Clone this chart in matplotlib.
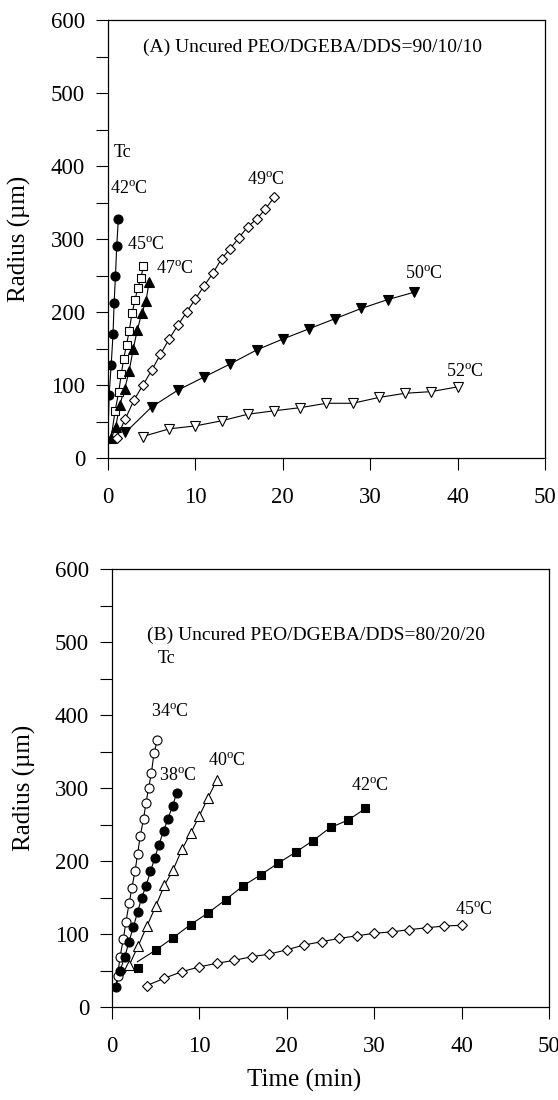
import matplotlib
matplotlib.use("Agg")
import matplotlib.pyplot as plt
from matplotlib.ticker import MultipleLocator

plt.rcParams['font.family'] = ['Liberation Serif', 'DejaVu Serif']
plt.rcParams['mathtext.fontset'] = 'custom'
plt.rcParams['mathtext.rm'] = 'Liberation Serif'

# (A) 90/10/10 : radius (um) vs time (min)
t42a = [0.13, 0.37, 0.58, 0.70, 0.86, 1.00, 1.19]
r42a = [86, 128, 170, 212, 250, 290, 328]
t45a = [0.82, 1.24, 1.52, 1.80, 2.12, 2.43, 2.74, 3.09, 3.40, 3.76, 4.05]
r45a = [65, 91, 115, 136, 155, 174, 198, 216, 233, 246, 263]
t47a = [0.38, 0.88, 1.35, 1.92, 2.42, 2.90, 3.35, 3.85, 4.35, 4.70]
r47a = [27, 42, 73, 95, 119, 150, 175, 198, 215, 241]
t49a = list(range(1, 20))
r49a = [28, 54, 80, 100, 120, 142, 163, 182, 200, 218, 236, 253, 273, 287, 302, 317, 327, 341, 357]
t50a = list(range(2, 36, 3))
r50a = [35, 70, 93, 111, 129, 148, 163, 177, 191, 205, 217, 227]
t52a = list(range(4, 41, 3))
r52a = [29.5, 40, 44, 51, 60, 64.7, 69, 75, 75, 83, 88.7, 91, 97.5]

# (B) 80/20/20
t34b = [0.65, 0.92, 1.30, 1.58, 1.96, 2.27, 2.65, 2.92, 3.23, 3.61, 3.88, 4.19, 4.50, 4.81, 5.19]
r34b = [43, 69, 93, 116, 142, 163, 187, 209, 234, 258, 279, 300, 320, 348, 366]
t38b = [0.43, 0.92, 1.45, 1.93, 2.45, 2.93, 3.40, 3.90, 4.40, 4.90, 5.35, 5.90, 6.40, 6.95, 7.40]
r38b = [27, 50, 68, 89, 110, 130, 150, 166, 186, 204, 222, 241, 258, 276, 293]
t40b = list(range(2, 13))
r40b = [58, 84, 111, 138, 167, 188, 216, 238, 262, 287, 311]
t42b = list(range(3, 30, 2))
r42b = [53, 78, 95, 113, 129, 147, 166, 181, 197, 212, 228, 246, 256, 272]
t45b = list(range(4, 41, 2))
r45b = [29.5, 39.5, 48.5, 55, 60, 64, 69, 72.5, 78.5, 85, 89.6, 94, 97.6, 101, 103, 106, 108.6, 111, 112]

# where the drawn growth line begins when it starts off the first marker
start42a = (0.0, 27)
start45a = (0.35, 27)
start34b = (0.43, 27)
start40b = (1.5, 47)
start42b = (2.9, 62)


def series(ax, t, r, marker, filled, ms=6.5, start=None, drop_first=False):
    lt, lr = list(t), list(r)
    if drop_first:
        lt, lr = lt[1:], lr[1:]
    if start is not None:
        lt, lr = [start[0]] + lt, [start[1]] + lr
    ax.plot(lt, lr, '-', color='black', lw=0.8, zorder=2)
    ax.plot(t, r, linestyle='none', marker=marker, ms=ms, mec='black',
            mew=0.8, mfc='black' if filled else 'white', zorder=3)


def style(ax):
    ax.set_xlim(0, 50)
    ax.set_ylim(0, 600)
    ax.xaxis.set_major_locator(MultipleLocator(10))
    ax.yaxis.set_major_locator(MultipleLocator(100))
    ax.yaxis.set_minor_locator(MultipleLocator(50))
    ax.tick_params(axis='both', which='both', direction='out', length=8.5,
                   width=0.8, labelsize=16.5, top=False, right=False)
    ax.tick_params(axis='x', pad=12)
    ax.tick_params(axis='y', pad=8)
    for s in ax.spines.values():
        s.set_linewidth(0.9)
    ax.set_ylabel('Radius (\u00b5m)', fontsize=18)
    ax.yaxis.set_label_coords(-0.175, 0.5)


def deg(v):
    return v + r'$^{\rm o}$C'


fig = plt.figure(figsize=(5.58, 11), dpi=100)
ax1 = fig.add_axes([0.1935, 0.5836, 0.7832, 0.3982])
ax2 = fig.add_axes([0.2007, 0.0845, 0.7832, 0.3982])

series(ax1, t42a, r42a, 'o', True, start=start42a)
series(ax1, t45a, r45a, 's', False, ms=6, start=start45a)
series(ax1, t47a, r47a, '^', True)
series(ax1, t49a, r49a, 'D', False, ms=5.5)
series(ax1, t50a, r50a, 'v', True)
series(ax1, t52a, r52a, 'v', False)
style(ax1)

fs = 13
ax1.text(4, 562, '(A) Uncured PEO/DGEBA/DDS=90/10/10', fontsize=14, va='center')
ax1.text(0.6, 418, 'Tc', fontsize=fs, va='center')
ax1.text(0.2, 368, deg('42'), fontsize=fs, va='center')
ax1.text(2.2, 292, deg('45'), fontsize=fs, va='center')
ax1.text(5.5, 258, deg('47'), fontsize=fs, va='center')
ax1.text(15.9, 380, deg('49'), fontsize=fs, va='center')
ax1.text(34.0, 252, deg('50'), fontsize=fs, va='center')
ax1.text(38.7, 118, deg('52'), fontsize=fs, va='center')

series(ax2, t34b, r34b, 'o', False, start=start34b)
series(ax2, t38b, r38b, 'o', True)
series(ax2, t40b, r40b, '^', False, start=start40b)
series(ax2, t42b, r42b, 's', True, ms=6, start=start42b, drop_first=True)
series(ax2, t45b, r45b, 'D', False, ms=5.5)
style(ax2)
ax2.set_xlabel('Time (min)', fontsize=18, va='center')
ax2.xaxis.set_label_coords(0.44, -0.167)

ax2.text(4, 509, '(B) Uncured PEO/DGEBA/DDS=80/20/20', fontsize=14, va='center')
ax2.text(5.2, 478, 'Tc', fontsize=fs, va='center')
ax2.text(4.5, 404, deg('34'), fontsize=fs, va='center')
ax2.text(5.4, 316, deg('38'), fontsize=fs, va='center')
ax2.text(11.0, 336, deg('40'), fontsize=fs, va='center')
ax2.text(27.3, 302, deg('42'), fontsize=fs, va='center')
ax2.text(39.2, 133, deg('45'), fontsize=fs, va='center')

fig.savefig('out.png', dpi=100)
